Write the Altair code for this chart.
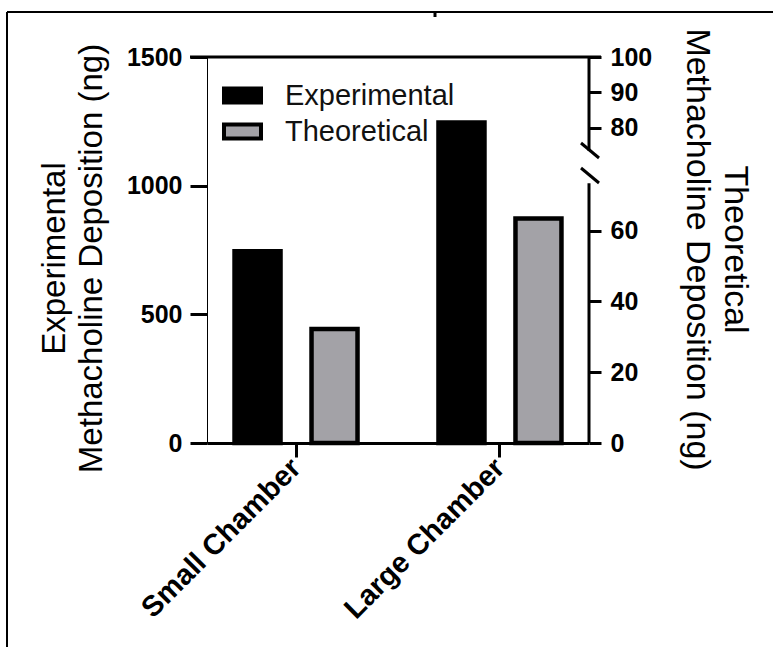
import altair as alt
import pandas as pd

# ---- data ----
categories = ["Small Chamber", "Large Chamber"]
series = ["Experimental", "Theoretical"]
experimental = [745, 1245]
theoretical = [32.2, 63.4]
left_ticks = [0, 500, 1000, 1500]
right_ticks = [0, 20, 40, 60, 80, 90, 100]
colors = ["#000000", "#a3a2a7"]
left_title = ["Experimental", "Methacholine  Deposition (ng)"]
right_title = ["Theoretical", "Methacholine Deposition (ng)"]
# broken right axis: lower segment 0..73.4, upper segment 73.5..100
right_domain = [0, 73.4, 73.5, 100]
right_segments = pd.DataFrame({"lo": [0, 73.5], "hi": [73.4, 100]})

W, H = 382, 386
FONT = "Liberation Sans"

exp_df = pd.DataFrame({"category": categories, "series": series[0], "value": experimental})
theo_df = pd.DataFrame({"category": categories, "series": series[1], "value": theoretical})

right_scale = alt.Scale(domain=right_domain, range=[H, 126.2, 93.8, 0], nice=False, zero=False)

x_enc = alt.X(
    "category:N", sort=categories,
    scale=alt.Scale(paddingInner=0.397, paddingOuter=0.135),
    axis=alt.Axis(title=None, labelAngle=-45, labelAlign="right", labelBaseline="middle",
                  labelFont=FONT, labelFontWeight="bold", labelFontSize=29, labelColor="black",
                  labelLimit=400, labelPadding=6, tickSize=14, tickWidth=3, tickColor="black",
                  domainWidth=3, domainColor="black", grid=False),
)
xoff = alt.XOffset("series:N", scale=alt.Scale(domain=series, paddingInner=0.4026, paddingOuter=0))
color = alt.Color(
    "series:N", scale=alt.Scale(domain=series, range=colors),
    legend=alt.Legend(title=None, orient="none", legendX=15, legendY=18, padding=0,
                      symbolType="M-1,-0.378H1V0.378H-1Z", symbolSize=1369,
                      symbolStrokeColor="black", symbolStrokeWidth=4, symbolOpacity=1,
                      labelFont=FONT, labelFontSize=29, labelColor="#111111",
                      labelOffset=22, rowPadding=0, labelLimit=400),
)

exp = alt.Chart(exp_df).mark_bar(stroke="black", strokeWidth=4.5).encode(
    x=x_enc, xOffset=xoff, color=color,
    y=alt.Y("value:Q", scale=alt.Scale(domain=[0, 1500], nice=False),
            axis=alt.Axis(values=left_ticks, format="d", title=left_title, grid=False,
                          domainWidth=1, domainColor="black", tickSize=17, tickWidth=3,
                          tickColor="black", labelFont=FONT, labelFontWeight="bold",
                          labelFontSize=25, labelColor="black", labelPadding=8,
                          titleFont=FONT, titleFontSize=33, titleFontWeight="normal",
                          titleColor="black", titleAngle=270, titleX=-153, titleY=201,
                          titleBaseline="middle", titleAlign="center", titleLineHeight=37)),
)

theo = alt.Chart(theo_df).mark_bar(stroke="black", strokeWidth=4.5).encode(
    x=x_enc, xOffset=xoff, color=color,
    y=alt.Y("value:Q", scale=right_scale,
            axis=alt.Axis(orient="right", values=right_ticks, title=right_title, grid=False,
                          domain=False, tickSize=12, tickWidth=3, tickColor="black",
                          labelFont=FONT, labelFontWeight="bold", labelFontSize=25,
                          labelColor="black", labelPadding=9,
                          titleFont=FONT, titleFontSize=34, titleFontWeight="normal",
                          titleColor="black", titleAngle=90, titleX=145, titleY=192,
                          titleBaseline="middle", titleAlign="center", titleLineHeight=38)),
)

right_axis_line = alt.Chart(right_segments).mark_rule(color="black", strokeWidth=3).encode(
    x=alt.value(W),
    y=alt.Y("lo:Q", scale=right_scale, axis=None),
    y2="hi:Q",
)

top_line = alt.Chart().mark_rule(color="black", strokeWidth=3).encode(
    x=alt.value(-17), x2=alt.value(W + 12), y=alt.value(0))
slash1 = alt.Chart().mark_rule(color="black", strokeWidth=3).encode(
    x=alt.value(374), x2=alt.value(392), y=alt.value(86), y2=alt.value(101))
slash2 = alt.Chart().mark_rule(color="black", strokeWidth=3).encode(
    x=alt.value(374), x2=alt.value(392), y=alt.value(111), y2=alt.value(126))
frame_top = alt.Chart().mark_rule(color="black", strokeWidth=2).encode(
    x=alt.value(-200), x2=alt.value(566), y=alt.value(-45))
frame_left = alt.Chart().mark_rule(color="black", strokeWidth=2).encode(
    x=alt.value(-200), y=alt.value(-45), y2=alt.value(590))
top_mark = alt.Chart().mark_rule(color="black", strokeWidth=3).encode(
    x=alt.value(228), y=alt.value(-45), y2=alt.value(-40))

chart = alt.layer(
    exp, theo, right_axis_line, top_line, slash1, slash2, frame_top, frame_left, top_mark
).resolve_scale(y="independent").properties(
    width=W, height=H,
    autosize=alt.AutoSizeParams(type="none"),
    padding={"left": 207, "top": 57, "right": 184, "bottom": 204},
    background="white",
).configure_view(strokeWidth=0)

chart.save("out.html", embed_options={"renderer": "svg", "actions": False})
